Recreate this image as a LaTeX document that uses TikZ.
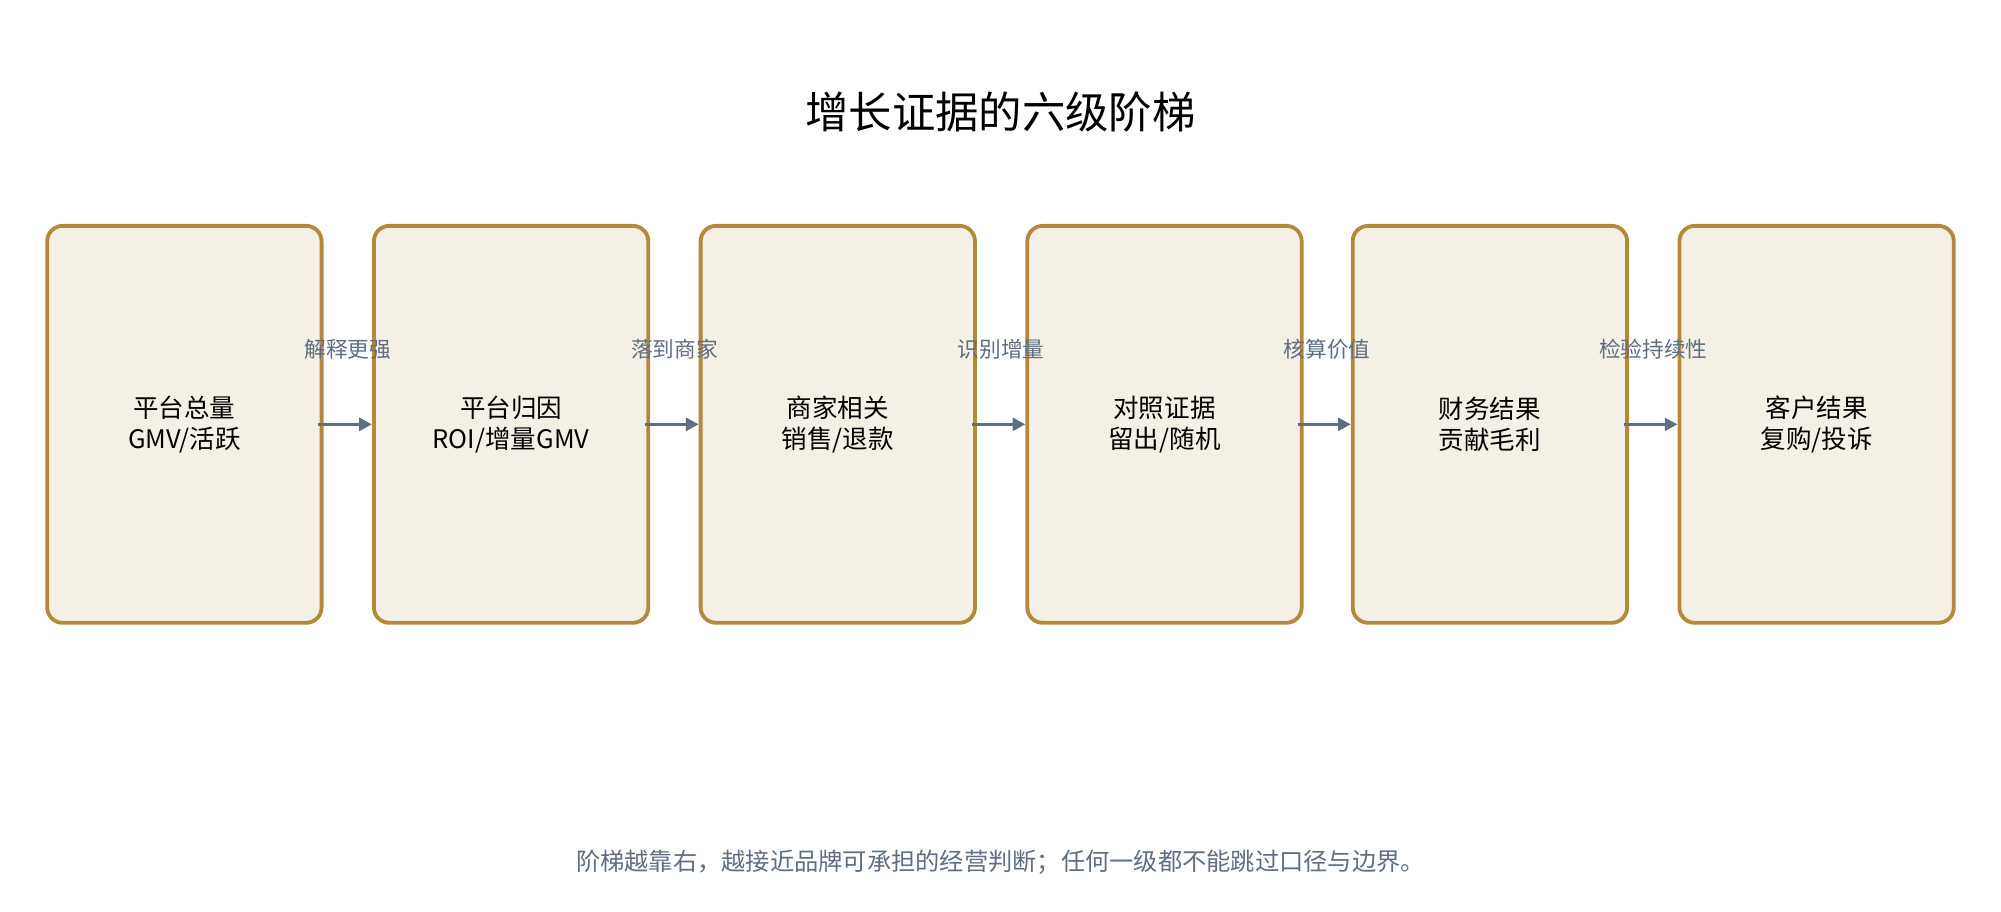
\documentclass[tikz,border=0pt]{standalone}
\usepackage{fontspec}
\setmainfont{Noto Sans CJK SC}
\usetikzlibrary{arrows.meta}
\definecolor{bfill}{HTML}{F5F0E6}
\definecolor{bdraw}{HTML}{B5893A}
\definecolor{agray}{HTML}{5F6E80}
\begin{document}
\begin{tikzpicture}[x=0.5pt,y=-0.5pt,
 box/.style={draw=bdraw,fill=bfill,line width=1.5pt,rounded corners=6pt,minimum width=107.5pt,minimum height=155.5pt,align=center,font=\fontsize{10pt}{12pt}\selectfont,inner sep=0pt},
 lab/.style={text=agray,font=\fontsize{8.5pt}{10pt}\selectfont},
 arr/.style={draw=agray,line width=1.3pt,-{Triangle[length=5pt,width=5pt]}}]
\useasboundingbox (0,0) rectangle (1568,714.6);
\node[font=\fontsize{17pt}{20pt}\selectfont] (t) at (784,88) {增长证据的六级阶梯};
\foreach \i/\x/\txt in {1/144.5/{平台总量\\GMV/活跃},2/400.5/{平台归因\\ROI/增量GMV},3/656.5/{商家相关\\销售/退款},4/912.5/{对照证据\\留出/随机},5/1167.5/{财务结果\\贡献毛利},6/1423.5/{客户结果\\复购/投诉}}
  \node[box] (b\i) at (\x,332.5) {\txt};
\foreach \a/\b/\l in {1/2/解释更强,2/3/落到商家,3/4/识别增量,4/5/核算价值,5/6/检验持续性}{
  \draw[arr] ([xshift=-2pt]b\a.east) -- (b\b.west);
  \path (b\a.east) -- (b\b.west) node[midway,lab,yshift=29.5pt] (l\a) {\l};
}
\node[text=agray,font=\fontsize{9.5pt}{11pt}\selectfont] (f) at (784,676) {阶梯越靠右，越接近品牌可承担的经营判断；任何一级都不能跳过口径与边界。};
\end{tikzpicture}
\end{document}
